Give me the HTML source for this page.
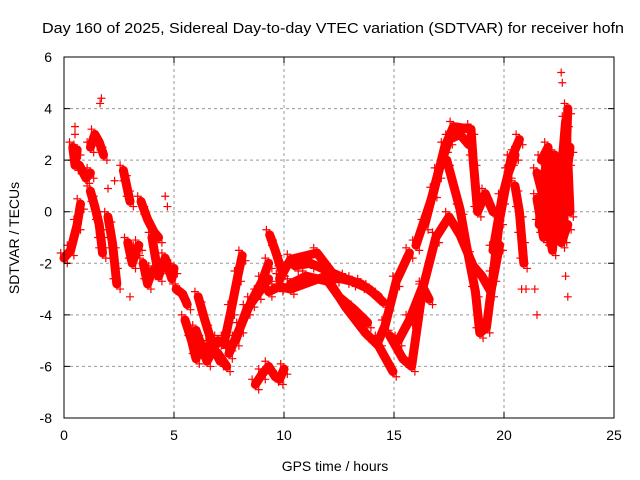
<!DOCTYPE html>
<html><head><meta charset="utf-8"><style>
body{margin:0;background:#fff}
svg{display:block;font-family:"Liberation Sans",sans-serif}
</style></head><body>
<svg id="chart" width="640" height="480" viewBox="0 0 640 480">
<text x="42" y="33" font-size="15" textLength="582" lengthAdjust="spacingAndGlyphs">Day 160 of 2025, Sidereal Day-to-day VTEC variation (SDTVAR) for receiver hofn</text>
<text x="335" y="471" font-size="14" text-anchor="middle">GPS time / hours</text>
<text transform="translate(19,238) rotate(-90)" font-size="14" text-anchor="middle">SDTVAR / TECUs</text>
<g id="grid"></g><g id="marks"></g><g id="axes"></g>
</svg>
<script>
const xTicks=[0,5,10,15,20,25];
const yTicks=[-8,-6,-4,-2,0,2,4,6];
const tracks=[
[[0,-1.8],[0.3,-1.5],[0.6,-0.5],[0.75,0.3]],
[[0.4,2.5],[0.5,1.8],[0.6,2.4]],
[[0.7,1.8],[1.0,1.3],[1.2,1.5]],
[[1.2,2.5],[1.4,3.0],[1.6,2.7],[1.8,2.2]],
[[1.2,0.8],[1.4,0.2],[1.6,-0.5],[1.7,-1.2],[1.75,-1.6]],
[[2.0,-0.2],[2.2,-1.2],[2.3,-2.0],[2.4,-2.8]],
[[2.7,1.6],[2.85,1.0],[3.0,0.4]],
[[2.9,-1.2],[3.1,-2.0],[3.3,-1.5],[3.4,-1.3]],
[[3.5,0.4],[3.8,-0.3],[4.1,-0.8],[4.3,-1.0]],
[[3.6,-2.0],[3.8,-2.8],[4.0,-2.3]],
[[4.0,-1.0],[4.3,-2.5],[4.6,-1.8],[4.9,-2.6],[5.0,-2.2]],
[[5.1,-3.0],[5.4,-3.2],[5.6,-3.6]],
[[5.5,-4.2],[5.8,-5.0],[6.0,-5.7]],
[[6.1,-3.3],[6.4,-4.2],[6.8,-5.3],[7.1,-5.8]],
[[6.2,-5.5],[6.6,-5.2],[7.0,-5.5],[7.4,-6.0]],
[[6.0,-4.6],[6.5,-5.8],[7.0,-5.0],[7.5,-5.2]],
[[7.3,-5.0],[7.6,-3.8],[7.9,-2.5],[8.1,-1.7]],
[[7.5,-5.5],[8.0,-4.5],[8.5,-3.5],[9.0,-2.7],[9.3,-2.0]],
[[7.8,-5.0],[8.3,-3.8],[8.8,-3.2],[9.3,-2.6]],
[[9.35,-0.9],[9.6,-1.5],[9.9,-2.3]],
[[9.3,-3.1],[9.8,-2.9],[10.3,-3.0],[11.9,-2.5],[12.8,-3.7],[13.7,-4.7],[14.3,-5.2],[14.95,-6.2]],
[[10.3,-2.8],[11.0,-2.5],[12.0,-2.7],[12.5,-3.3],[13.2,-3.8],[13.8,-4.3]],
[[9.8,-2.6],[10.3,-1.85],[11.5,-1.6],[12.35,-2.55],[13.1,-2.7],[13.87,-3.0],[14.5,-3.5]],
[[10.5,-2.1],[11.2,-2.0],[12.0,-2.3],[12.8,-2.6],[13.5,-2.8],[14.3,-3.3]],
[[8.7,-6.7],[9.0,-6.3],[9.3,-6.0],[9.6,-6.4],[9.8,-6.5],[10.0,-6.1]],
[[14.3,-5.0],[14.6,-4.4],[15.1,-2.7],[15.7,-1.6]],
[[14.8,-4.8],[15.4,-5.7],[15.8,-6.0],[16.3,-3.0],[16.9,-1.0],[17.5,-0.2],[18.0,-0.9],[18.6,-2.1],[19.0,-2.5],[19.4,-3.1],[19.8,-1.3]],
[[15.2,-5.0],[15.7,-4.2],[16.3,-2.9],[16.6,-3.4]],
[[16.0,-1.3],[16.8,0.75],[17.3,2.5],[17.7,3.3],[18.5,3.2],[18.6,2.0],[18.8,0.0],[19.15,0.7],[19.5,0.0]],
[[16.4,-0.5],[17.0,1.5],[17.5,2.8],[18.0,3.0],[18.4,2.6]],
[[17.4,2.0],[18.0,0.1],[18.3,-1.35],[18.7,-3.1],[18.9,-4.7],[19.2,-4.5],[19.5,-2.5],[19.8,-0.3],[20.3,2.0],[20.7,2.8]],
[[19.5,-1.5],[19.9,0.5],[20.2,1.5],[20.5,2.2]],
[[20.5,1.0],[20.7,0.0],[20.8,-1.0],[20.9,-2.0]],
[[21.5,1.5],[21.8,0.5],[22.0,-0.5],[22.2,-1.5],[22.4,0.5],[22.6,1.5],[22.8,3.5],[22.9,2.0],[23.0,0.0]],
[[21.6,-0.5],[21.9,1.8],[22.1,1.0],[22.3,2.2],[22.5,0.0],[22.7,-1.0],[22.9,4.0]],
[[21.5,0.5],[21.8,-1.0],[22.0,1.2],[22.2,0.2],[22.4,1.8],[22.6,0.5],[22.8,1.0],[23.0,2.5]],
[[21.7,2.0],[22.0,2.5],[22.3,-0.8],[22.6,-1.2],[22.9,-0.5]]
];
const scatter=[[1.64,4.2],[1.7,4.4],[0.5,3.0],[2.0,0.9],[3.0,-3.3],[4.6,0.6],[21.0,-3.0],[21.4,-3.0],[21.5,-4.0],[22.8,-2.5],[22.9,-3.3],[22.6,5.4],[22.65,5.0],[20.8,-3.0],[0.5,3.3],[2.3,1.2],[4.7,0.2]];
const X0=64,X1=614,Y0=418,Y1=57;
function sx(t){return X0+(t-0)*(X1-X0)/25;}
function sy(v){return Y0-(v+8)*(Y0-Y1)/14;}
const NS='http://www.w3.org/2000/svg';
function mk(tag,attrs,parent){const e=document.createElementNS(NS,tag);for(const k in attrs)e.setAttribute(k,attrs[k]);parent.appendChild(e);return e;}
const grid=document.getElementById('grid'),marks=document.getElementById('marks'),axes=document.getElementById('axes');
xTicks.forEach(t=>{
  if(t>0&&t<25){const l=mk('line',{x1:sx(t),x2:sx(t),y1:Y1,y2:Y0,stroke:'#999','stroke-dasharray':'3,3'},grid);
  
  }
  const tk=mk('path',{d:`M${sx(t)},${Y0}v-6M${sx(t)},${Y1}v6`,stroke:'#000'},axes);
  
  
  const tx=mk('text',{x:sx(t),y:Y0+22,'font-size':14,'text-anchor':'middle'},axes);tx.textContent=t;
  
  
});
yTicks.forEach(v=>{
  if(v>-8&&v<6){const l=mk('line',{x1:X0,x2:X1,y1:sy(v),y2:sy(v),stroke:'#999','stroke-dasharray':'3,3'},grid);
  
  }
  const tk=mk('path',{d:`M${X0},${sy(v)}h6M${X1},${sy(v)}h-6`,stroke:'#000'},axes);
  
  
  const tx=mk('text',{x:X0-12,y:sy(v)+5,'font-size':14,'text-anchor':'end'},axes);tx.textContent=v;
  
  
});
const fr=mk('rect',{x:X0,y:Y1,width:X1-X0,height:Y0-Y1,fill:'none',stroke:'#000'},axes);


function plus(t,v,c){const p=mk('path',{d:`M${sx(t)-4},${sy(v)}h8M${sx(t)},${sy(v)-4}v8`,stroke:c,'stroke-width':1.2},marks);
  
  }
tracks.forEach(tr=>{
  const pl=mk('polyline',{points:tr.map(p=>sx(p[0])+','+sy(p[1])).join(' '),fill:'none',stroke:'#f00','stroke-width':9,'stroke-linecap':'round','stroke-linejoin':'round'},marks);
  
  
  tr.forEach(p=>{plus(p[0]-0.15,p[1]+0.2,'#f00');plus(p[0]+0.15,p[1]-0.2,'#f00');});
});
scatter.forEach(p=>plus(p[0],p[1],'#f00'));
</script>
</body></html>
